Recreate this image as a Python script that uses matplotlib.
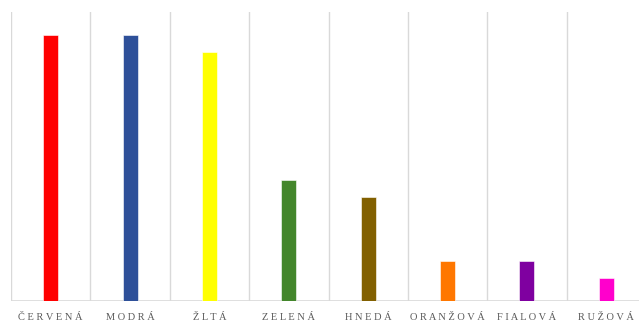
import numpy as np
import matplotlib
matplotlib.use("Agg")
import matplotlib.pyplot as plt

# farby a počty
categories = ["ČERVENÁ", "MODRÁ", "ŽLTÁ", "ZELENÁ", "HNEDÁ", "ORANŽOVÁ", "FIALOVÁ", "RUŽOVÁ"]
counts = [46, 46, 43, 21, 18, 7, 7, 4]
bar_colors = ["#ff0000", "#2e5099", "#ffff00", "#43862b", "#826000", "#ff7700", "#7f00a0", "#ff00cc"]

plt.rcParams["font.family"] = ["Liberation Serif", "DejaVu Serif"]

fig = plt.figure(figsize=(6.39, 3.24), dpi=100)
ax = fig.add_axes([11 / 639, 23 / 324, 635 / 639, 289 / 324])

x = np.arange(len(categories))
ax.bar(x, counts, width=0.19, color=bar_colors, edgecolor="white", linewidth=0.4, zorder=3)

ax.set_xlim(-0.5, len(categories) - 0.5)
ax.set_ylim(0, 50)

# zvislé mriežky medzi kategóriami
for b in np.arange(-0.5, len(categories), 1.0):
    ax.axvline(b, color="#d9d9d9", linewidth=1.0, zorder=1)
ax.axhline(0, color="#d9d9d9", linewidth=1.2, zorder=2)

for s in ax.spines.values():
    s.set_visible(False)
ax.set_yticks([])
ax.set_xticks(x)
ax.set_xticklabels([" ".join(c) for c in categories], fontsize=7.5, color="#595959")
ax.tick_params(axis="x", length=0, pad=9)

fig.savefig("out.png", dpi=100)
